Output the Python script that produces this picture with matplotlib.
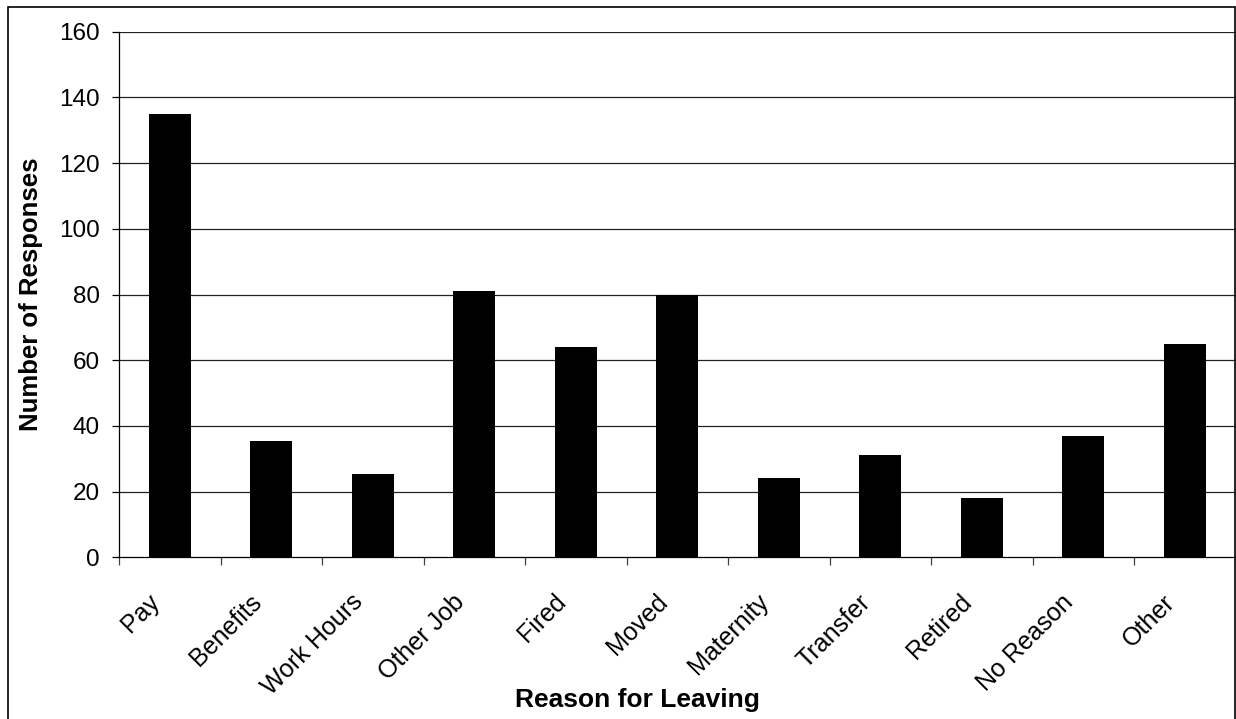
import matplotlib
matplotlib.use("Agg")
import matplotlib.pyplot as plt
import matplotlib.transforms as mtransforms
from matplotlib.patches import Rectangle

plt.rcParams['font.family'] = ['Liberation Sans', 'DejaVu Sans']

reasons = ['Pay', 'Benefits', 'Work Hours', 'Other Job', 'Fired', 'Moved',
           'Maternity', 'Transfer', 'Retired', 'No Reason', 'Other']
responses = [135, 35.5, 25.3, 81.2, 64, 80, 24, 31, 18, 37, 65]
y_ticks = [0, 20, 40, 60, 80, 100, 120, 140, 160]

fig = plt.figure(figsize=(12.36, 7.19), dpi=100)
ax = fig.add_axes([119 / 1236, 1 - 557.3 / 719, (1235.5 - 119) / 1236, (557.3 - 31.7) / 719])

idx = list(range(len(reasons)))
ax.bar(idx, responses, width=0.41, color='black', zorder=3)

ax.set_xlim(-0.5, len(reasons) - 0.5)
ax.set_ylim(0, 160)
ax.set_yticks(y_ticks)
ax.set_yticklabels([str(v) for v in y_ticks], fontsize=17.5)
for v in y_ticks[1:]:
    ax.axhline(v, color='#222222', linewidth=0.9, zorder=1)

# category ticks sit on the boundaries, labels in the middle
ax.set_xticks([i - 0.5 for i in idx] + [len(reasons) - 0.5])
ax.set_xticklabels([])
ax.set_xticks(idx, minor=True)
ax.set_xticklabels(reasons, minor=True, rotation=45, ha='right',
                   rotation_mode='anchor', fontsize=18)
ax.tick_params(axis='x', which='minor', length=0, pad=22)
ax.tick_params(axis='x', which='major', length=5.5, width=0.9, color='#444444')
ax.tick_params(axis='y', length=5, width=0.9, pad=9)
shift = mtransforms.ScaledTranslation(-0.22, -0.02, fig.dpi_scale_trans)
for lab in ax.get_xticklabels(minor=True):
    lab.set_transform(lab.get_transform() + shift)

for s in ['top', 'right']:
    ax.spines[s].set_visible(False)
ax.spines['left'].set_linewidth(0.9)
ax.spines['bottom'].set_linewidth(0.9)

fig.text(31 / 1236, 1 - 294 / 719, 'Number of Responses', rotation=90,
         fontsize=18.5, fontweight='bold', ha='center', va='center')
fig.text(637 / 1236, 1 - 700 / 719, 'Reason for Leaving',
         fontsize=19, fontweight='bold', ha='center', va='center')

fig.patches.append(Rectangle((8 / 1236, -0.02), (1235 - 8) / 1236, 1.02 - 7 / 719,
                             transform=fig.transFigure, fill=False,
                             edgecolor='black', linewidth=1.2))

fig.savefig('out.png', dpi=100, facecolor='white')
